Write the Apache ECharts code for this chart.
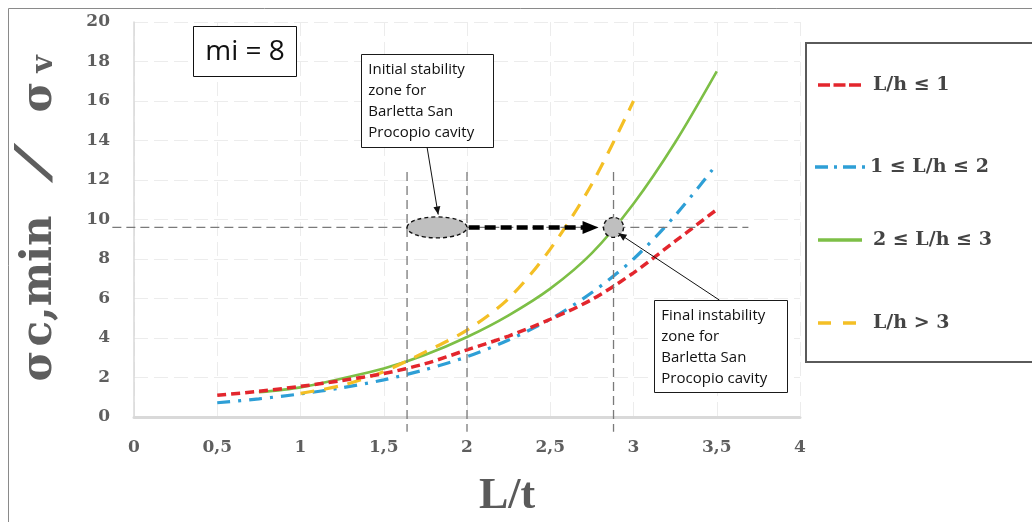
<!DOCTYPE html>
<html>
<head>
<meta charset="utf-8">
<script src="https://cdn.jsdelivr.net/npm/echarts@6/dist/echarts.min.js"></script>
<style>
  html, body { margin: 0; padding: 0; background: #ffffff; }
  #chart { width: 1032px; height: 522px; }
</style>
</head>
<body>
<div id="chart"></div>
<script>
// ---- data: L/t against sigma_c,min / sigma_v for four L/h classes (mi = 8) ----
const seriesNames = ['L/h \u2264 1', '1 \u2264 L/h \u2264 2', '2 \u2264 L/h \u2264 3', 'L/h > 3'];

const xRed    = [0.5, 0.75, 1, 1.25, 1.5, 1.75, 2, 2.25, 2.5, 2.75, 3, 3.25, 3.5];
const yRed    = [1.1, 1.3, 1.55, 1.85, 2.2, 2.7, 3.4, 4.1, 4.95, 5.95, 7.3, 8.9, 10.5];

const xBlue   = [0.5, 0.75, 1, 1.25, 1.5, 1.75, 2, 2.25, 2.5, 2.75, 3, 3.25, 3.5];
const yBlue   = [0.72, 0.92, 1.17, 1.48, 1.88, 2.4, 3.05, 3.9, 4.95, 6.3, 8.0, 10.2, 12.8];

const xGreen  = [0.75, 1, 1.25, 1.5, 1.75, 2, 2.25, 2.5, 2.75, 3, 3.25, 3.5];
const yGreen  = [1.25, 1.5, 1.95, 2.45, 3.15, 4.05, 5.15, 6.5, 8.3, 10.8, 13.9, 17.5];

const xYellow = [1, 1.25, 1.5, 1.75, 2, 2.25, 2.5, 2.75, 3];
const yYellow = [1.2, 1.6, 2.3, 3.3, 4.4, 6.0, 8.5, 11.8, 16.0];

// ---- annotation anchors, in data units (L/t, stress ratio) ----
const guideX = [1.64, 2.0, 2.88];       // vertical dashed guides
const guideYTop = 12.4, guideYBottom = -0.75;
const levelY = 9.6;                     // horizontal dashed guide
const levelXFrom = -0.13, levelXTo = 3.69;
const initialZone = [1.82, 9.6];        // ellipse centre
const finalZone = [2.88, 9.6];          // circle centre
const shiftArrow = [[2.01, 9.6], [2.79, 9.6]];
const noteInitial = { at: [1.365, 18.38], lines: ['Initial stability', 'zone for', 'Barletta San', 'Procopio cavity'],
                      leader: [[1.76, 13.67], [1.827, 10.25]] };
const noteFinal   = { at: [3.125, 5.92], lines: ['Final instability', 'zone for', 'Barletta San', 'Procopio cavity'],
                      leader: [[3.516, 5.92], [2.91, 9.3]] };

const colors = ['#e3262d', '#2e9fd6', '#7dbf46', '#f4bf25'];
const dashes = [[9, 5], [13, 8, 3, 8], null, [14, 10]];
const legendDashes = [[12, 3.5], [13, 6, 3, 6], null, [13, 12]];
const pair = (xs, ys) => xs.map((x, i) => [x, ys[i]]);

const serifBold = { fontFamily: 'DejaVu Serif', fontWeight: 'bold' };
const tickFont = Object.assign({ fontSize: 17, color: '#5e5e5e' }, serifBold);
const gridLine = { show: true, lineStyle: { color: '#ececec', width: 1, type: [14, 6] } };

const chart = echarts.init(document.getElementById('chart'), null, { renderer: 'canvas' });

const lineSeries = (i, xs, ys, width) => ({
  name: seriesNames[i], type: 'line', data: pair(xs, ys), smooth: 0.3, symbol: 'none',
  lineStyle: { color: colors[i], width: width, type: dashes[i] || 'solid' },
  itemStyle: { color: colors[i] }, z: i === 0 ? 3 : 2
});

chart.setOption({
  animation: false,
  backgroundColor: '#ffffff',
  grid: { left: 134, right: 232, top: 22, bottom: 105, containLabel: false },
  xAxis: {
    type: 'value', min: 0, max: 4, interval: 0.5,
    axisLine: { show: true, onZero: false, lineStyle: { color: '#d9d9d9', width: 3 } },
    axisTick: { show: false },
    splitLine: gridLine,
    axisLabel: Object.assign({ margin: 22, formatter: v => String(v).replace('.', ',') }, tickFont)
  },
  yAxis: {
    type: 'value', min: 0, max: 20, interval: 2,
    axisLine: { show: true, lineStyle: { color: '#d9d9d9', width: 1.5 } },
    axisTick: { show: false },
    splitLine: gridLine,
    axisLabel: Object.assign({ margin: 24 }, tickFont)
  },
  series: [
    lineSeries(0, xRed, yRed, 3.5),
    lineSeries(1, xBlue, yBlue, 3.2),
    lineSeries(2, xGreen, yGreen, 2.6),
    lineSeries(3, xYellow, yYellow, 3.2)
  ]
});

// ---- overlay: frame, legend, guides, zones, arrows, notes and titles ----
const px = p => chart.convertToPixel({ gridIndex: 0 }, p);

function headPoints(tip, from, len, half) {
  const dx = tip[0] - from[0], dy = tip[1] - from[1];
  const d = Math.hypot(dx, dy), ux = dx / d, uy = dy / d;
  const bx = tip[0] - ux * len, by = tip[1] - uy * len;
  return [tip, [bx - uy * half, by + ux * half], [bx + uy * half, by - ux * half]];
}

const g = [];
const Z = 20;

// outer frame
g.push({ type: 'rect', silent: true, z: 1, shape: { x: 8.5, y: 8.5, width: 1100, height: 600 },
         style: { fill: null, stroke: '#8a8a8a', lineWidth: 1 } });

// legend box
g.push({ type: 'rect', silent: true, z: 1, shape: { x: 806, y: 43, width: 300, height: 319 },
         style: { fill: null, stroke: '#5a5a5a', lineWidth: 2 } });
const legendRowsY = [85, 167, 240, 323];
seriesNames.forEach((name, i) => {
  const y = legendRowsY[i];
  g.push({ type: 'line', silent: true, z: 2, shape: { x1: i === 1 ? 815 : 818, y1: y, x2: i === 1 ? 868 : 862, y2: y },
           style: { stroke: colors[i], lineWidth: 3.5, lineDash: legendDashes[i] || null } });
  g.push({ type: 'text', silent: true, z: 2,
           style: Object.assign({ x: i === 1 ? 870 : 873, y: y, text: name, fontSize: 19, fill: '#444444',
                                  textVerticalAlign: 'middle' }, serifBold) });
});

// dashed guides
const guideStyle = { stroke: '#7a7a7a', lineWidth: 1.3, lineDash: [9, 5] };
guideX.forEach(x => {
  const a = px([x, guideYTop]), b = px([x, guideYBottom]);
  g.push({ type: 'line', silent: true, z: Z, shape: { x1: a[0], y1: a[1], x2: b[0], y2: b[1] }, style: guideStyle });
});
{
  const a = px([levelXFrom, levelY]), b = px([levelXTo, levelY]);
  g.push({ type: 'line', silent: true, z: Z, shape: { x1: a[0], y1: a[1], x2: b[0], y2: b[1] }, style: guideStyle });
}

// thick arrow from the initial zone to the final zone
{
  const a = px(shiftArrow[0]), tip = px(shiftArrow[1]);
  g.push({ type: 'line', silent: true, z: Z + 1, shape: { x1: a[0], y1: a[1], x2: tip[0] - 14, y2: tip[1] },
           style: { stroke: '#000', lineWidth: 4.5, lineDash: [11, 5] } });
  g.push({ type: 'polygon', silent: true, z: Z + 1, shape: { points: headPoints(tip, a, 16, 6.5) },
           style: { fill: '#000' } });
}

// zones
{
  const c = px(initialZone);
  g.push({ type: 'ellipse', silent: true, z: Z + 2, shape: { cx: c[0], cy: c[1], rx: 30, ry: 10.5 },
           style: { fill: '#bfbfbf', stroke: '#111', lineWidth: 1.4, lineDash: [4, 3] } });
  const f = px(finalZone);
  g.push({ type: 'circle', silent: true, z: Z + 2, shape: { cx: f[0], cy: f[1], r: 10 },
           style: { fill: '#bfbfbf', stroke: '#111', lineWidth: 1.4, lineDash: [4, 3] } });
}

// note boxes with leader arrows
[[noteInitial, 132, 93], [noteFinal, 133, 92]].forEach(([n, w, h]) => {
  const p = px(n.at);
  g.push({ type: 'rect', silent: true, z: Z + 3, shape: { x: Math.round(p[0]) + 0.5, y: Math.round(p[1]) + 0.5, width: w, height: h },
           style: { fill: '#ffffff', stroke: '#1a1a1a', lineWidth: 1 } });
  g.push({ type: 'text', silent: true, z: Z + 4,
           style: { x: p[0] + 7, y: p[1] + 5.5, text: n.lines.join('\n'), fontFamily: 'Open Sans', fontSize: 15,
                    lineHeight: 21, fill: '#111', textVerticalAlign: 'top' } });
  const a = px(n.leader[0]), b = px(n.leader[1]);
  g.push({ type: 'line', silent: true, z: Z + 3, shape: { x1: a[0], y1: a[1], x2: b[0], y2: b[1] },
           style: { stroke: '#111', lineWidth: 1 } });
  g.push({ type: 'polygon', silent: true, z: Z + 3, shape: { points: headPoints(b, a, 8, 3.5) },
           style: { fill: '#111' } });
});

// material constant box
g.push({ type: 'rect', silent: true, z: Z, shape: { x: 193.5, y: 26.5, width: 103, height: 50 },
         style: { fill: '#ffffff', stroke: '#111', lineWidth: 1 } });
g.push({ type: 'text', silent: true, z: Z + 1,
         style: { x: 245, y: 52, text: 'mi = 8', fontFamily: 'Open Sans', fontSize: 28, fill: '#111',
                  textAlign: 'center', textVerticalAlign: 'middle' } });

// x axis title
g.push({ type: 'text', silent: true, z: Z,
         style: { x: 507, y: 497, text: 'L/t', fontFamily: 'Liberation Serif', fontWeight: 'bold', fontSize: 44,
                  fill: '#5a5a5a', textAlign: 'center', textVerticalAlign: 'middle' } });

// y axis title, set piece by piece along the rotated baseline
const yTitleParts = [
  { text: '\u03c3', y: 366, size: 42, x: 40 },
  { text: 'c,min', y: 281, size: 42, x: 40 },
  { text: '/', y: 163, size: 56, x: 37, font: 'Liberation Serif', weight: 'normal', stretch: 2.6 },
  { text: '\u03c3', y: 97, size: 42, x: 40 },
  { text: 'v', y: 64, size: 30, x: 44 }
];
yTitleParts.forEach(p => {
  g.push({ type: 'text', silent: true, z: Z, x: p.x, y: p.y, rotation: Math.PI / 2,
           scaleX: p.stretch || 1, scaleY: 1,
           style: { x: 0, y: 0, text: p.text, fontFamily: p.font || 'DejaVu Serif', fontWeight: p.weight || 'bold',
                    fontSize: p.size, fill: '#5e5e5e', textAlign: 'center', textVerticalAlign: 'middle' } });
});

chart.setOption({ graphic: { elements: g } });
</script>
</body>
</html>
